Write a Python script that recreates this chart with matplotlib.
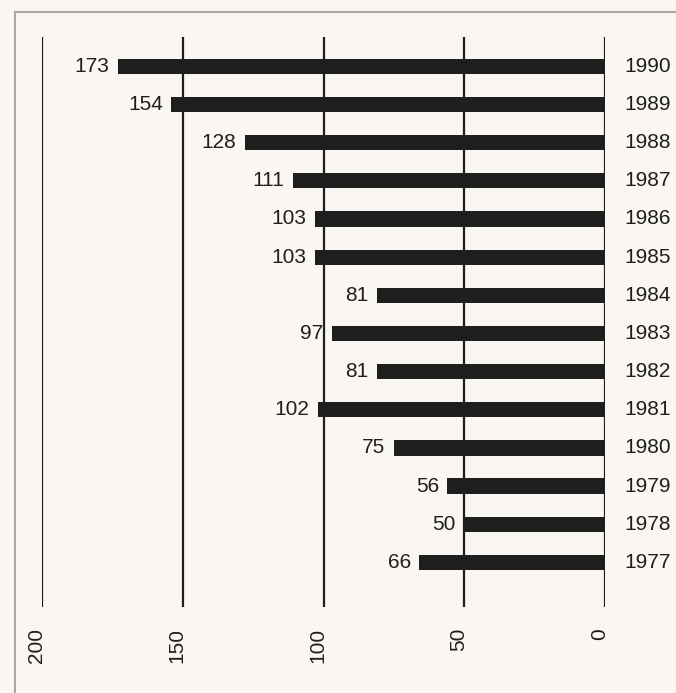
import matplotlib
matplotlib.use("Agg")
import matplotlib.pyplot as plt
from matplotlib.lines import Line2D

years = [1977, 1978, 1979, 1980, 1981, 1982, 1983, 1984, 1985, 1986, 1987, 1988, 1989, 1990]
values = [66, 50, 56, 75, 102, 81, 97, 81, 103, 103, 111, 128, 154, 173]
xticks = [0, 50, 100, 150, 200]
xtick_labels = ["0", "50", "100", "150", "200"]

bg = "#faf7f3"
ink = "#1e1e1e"
fs = 15
plt.rcParams['font.family'] = ['Liberation Sans', 'DejaVu Sans']

W, H = 676, 693
fig = plt.figure(figsize=(6.76, 6.93), dpi=100, facecolor=bg)
ax = fig.add_axes([42/W, 1-607/H, (605-42)/W, (607-37)/H])
ax.set_facecolor(bg)

pos = list(range(len(years)))
ax.barh(pos, values, height=0.40, color=ink, zorder=3)

for x in xticks:
    ax.axvline(x, color=ink, lw=1.6, zorder=2)

for p, v, yr in zip(pos, values, years):
    ax.annotate(str(v), xy=(v, p), xytext=(-6, 0), textcoords='offset points',
                ha='right', va='center', fontsize=fs, color=ink)
    ax.annotate(str(yr), xy=(0, p), xytext=(14, 0), textcoords='offset points',
                ha='left', va='center', fontsize=fs, color=ink)

for x, lab in zip(xticks, xtick_labels):
    ax.annotate(lab, xy=(x, 0), xycoords=('data', 'axes fraction'),
                xytext=(-4, -15), textcoords='offset points',
                rotation=90, ha='center', va='top', fontsize=fs, color=ink)

ax.set_xlim(200, 0)
ax.set_ylim(-1.17, 13.77)
ax.set_xticks([])
ax.set_yticks([])
for s in ax.spines.values():
    s.set_visible(False)

border = "#a8a8a8"
fig.lines.append(Line2D([15/W, 15/W], [0, 1-12/H], transform=fig.transFigure,
                        color=border, lw=1.5))
fig.lines.append(Line2D([15/W, 1], [1-12/H, 1-12/H], transform=fig.transFigure,
                        color=border, lw=1.5))

fig.savefig("out.png", dpi=100, facecolor=bg)
